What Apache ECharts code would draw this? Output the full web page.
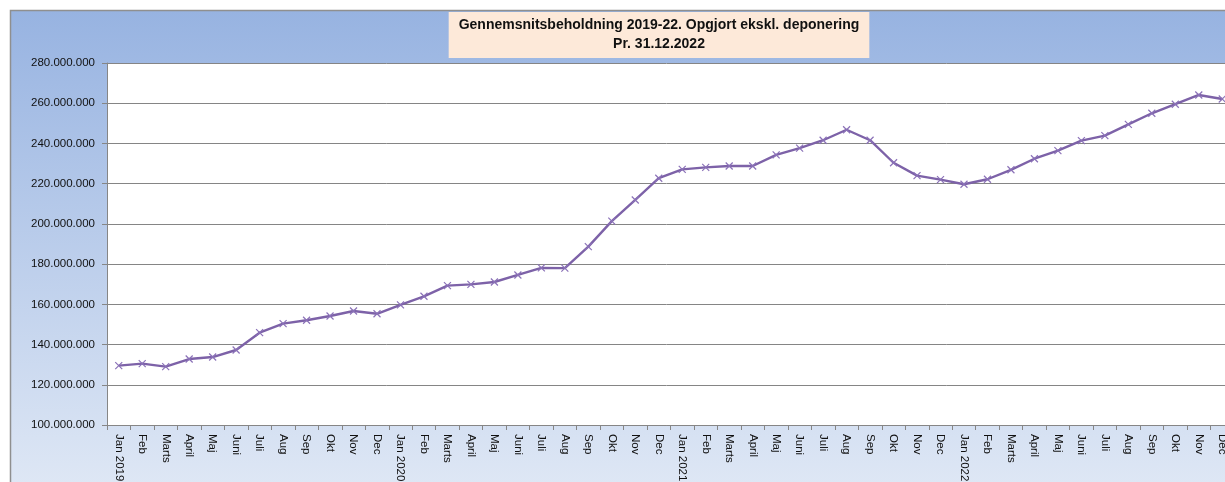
<!DOCTYPE html>
<html>
<head>
<meta charset="utf-8">
<script src="https://cdn.jsdelivr.net/npm/echarts@6/dist/echarts.min.js"></script>
<style>
  html, body { margin: 0; padding: 0; background: #fff; }
  #main { width: 1225px; height: 482px; }
</style>
</head>
<body>
<div id="main"></div>
<script>
// month labels, Jan 2019 .. Dec 2022
const months = [
  'Jan 2019', 'Feb', 'Marts', 'April', 'Maj', 'Juni', 'Juli', 'Aug', 'Sep', 'Okt', 'Nov', 'Dec',
  'Jan 2020', 'Feb', 'Marts', 'April', 'Maj', 'Juni', 'Juli', 'Aug', 'Sep', 'Okt', 'Nov', 'Dec',
  'Jan 2021', 'Feb', 'Marts', 'April', 'Maj', 'Juni', 'Juli', 'Aug', 'Sep', 'Okt', 'Nov', 'Dec',
  'Jan 2022', 'Feb', 'Marts', 'April', 'Maj', 'Juni', 'Juli', 'Aug', 'Sep', 'Okt', 'Nov', 'Dec'
];

// gennemsnitsbeholdning, mio. kr.
const beholdning = [
  129.5, 130.5, 129.0, 132.8, 133.8, 137.3, 145.9, 150.4, 152.1, 154.2, 156.7, 155.3,
  159.7, 164.0, 169.3, 169.9, 171.1, 174.6, 178.1, 178.0, 188.7, 201.4, 211.9, 222.7,
  227.1, 228.1, 228.8, 228.8, 234.3, 237.7, 241.6, 246.8, 241.6, 230.4, 224.0, 222.0,
  219.7, 222.2, 226.9, 232.4, 236.4, 241.4, 243.9, 249.5, 255.0, 259.5, 264.1, 262.1
];

const yTicks = [100, 120, 140, 160, 180, 200, 220, 240, 260, 280];

const fmt = v => Math.round(v * 1000000).toString().replace(/\B(?=(\d{3})+(?!\d))/g, '.');

var myChart = echarts.init(document.getElementById('main'));
myChart.setOption({
  animation: false,
  backgroundColor: '#ffffff',
  graphic: [
    {
      type: 'rect',
      z: -100,
      shape: { x: 10.5, y: 10.5, width: 1240, height: 500 },
      style: {
        fill: new echarts.graphic.LinearGradient(0, 0, 0, 1, [
          { offset: 0, color: '#97b3e1' },
          { offset: 1, color: '#e2eaf6' }
        ]),
        stroke: '#8f8f8f',
        lineWidth: 1.5
      }
    }
  ],
  title: {
    text: 'Gennemsnitsbeholdning 2019-22. Opgjort ekskl. deponering\nPr. 31.12.2022',
    left: 649,
    top: 12,
    textAlign: 'center',
    backgroundColor: '#fde9d9',
    padding: [4, 10, 4, 10],
    textStyle: {
      fontFamily: 'Liberation Sans',
      fontWeight: 'bold',
      fontSize: 14,
      lineHeight: 19,
      color: '#111'
    }
  },
  grid: {
    left: 107,
    top: 63,
    width: 1127,
    height: 362,
    outerBoundsMode: 'none',
    containLabel: false,
    show: true,
    backgroundColor: '#ffffff',
    borderWidth: 0
  },
  xAxis: {
    type: 'category',
    data: months,
    boundaryGap: true,
    axisLine: { lineStyle: { color: '#868686', width: 1 } },
    axisTick: { show: true, length: 5, interval: 0, lineStyle: { color: '#868686' } },
    axisLabel: {
      interval: 0,
      rotate: -90,
      margin: 9,
      fontFamily: 'Liberation Sans',
      fontSize: 11.5,
      color: '#111'
    }
  },
  yAxis: {
    type: 'value',
    min: yTicks[0],
    max: yTicks[yTicks.length - 1],
    interval: 20,
    axisLine: { show: true, lineStyle: { color: '#868686', width: 1 } },
    axisTick: { show: true, length: 5, lineStyle: { color: '#868686' } },
    splitLine: { show: true, lineStyle: { color: '#858585', width: 1 } },
    axisLabel: {
      margin: 12,
      fontFamily: 'Liberation Sans',
      fontSize: 11.5,
      color: '#111',
      formatter: fmt
    }
  },
  series: [
    {
      name: 'Beholdning',
      type: 'line',
      data: beholdning,
      lineStyle: { color: '#7d62a8', width: 2.4 },
      symbol: 'path://M0,0L10,10M10,0L0,10',
      symbolSize: 7,
      itemStyle: { color: 'none', borderColor: '#8b72b8', borderWidth: 1.2 }
    }
  ]
});
</script>
</body>
</html>
